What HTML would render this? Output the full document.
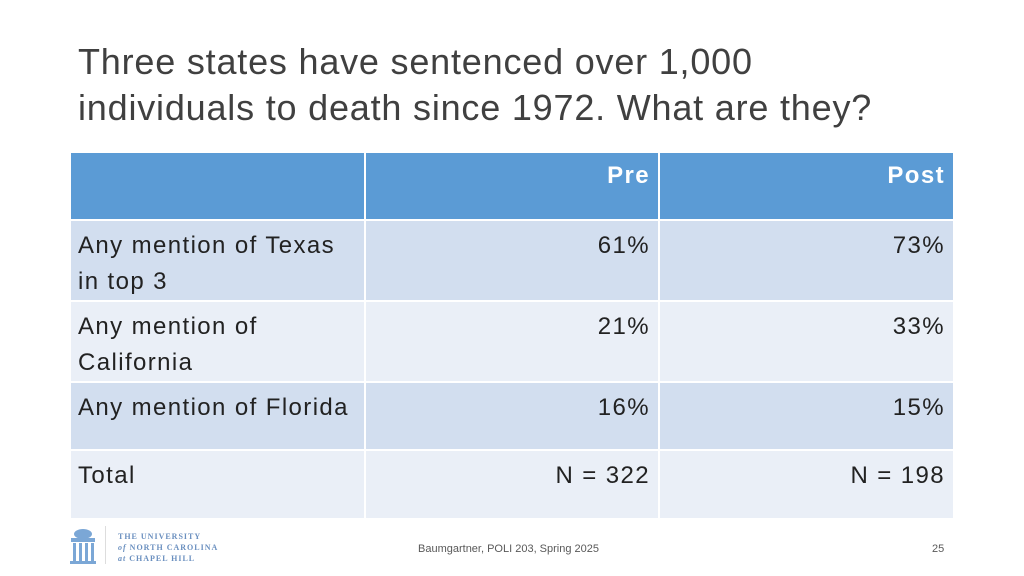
<!DOCTYPE html>
<html><head><meta charset="utf-8"><style>
body{margin:0;width:1024px;height:576px;background:#fff;position:relative;overflow:hidden;font-family:"Liberation Sans",sans-serif;}
.t{position:absolute;left:78px;top:39px;font-size:36px;line-height:46px;color:#404040;letter-spacing:0.8px;}
table{position:absolute;left:69px;top:151px;border-collapse:collapse;}
td{border:2px solid #fff;font-size:24px;letter-spacing:1.4px;color:#222;vertical-align:top;padding:7px 8px 0 7px;line-height:36px;box-sizing:border-box;}
td.r{text-align:right}
tr.h td{background:#5B9BD5;color:#fff;font-weight:bold;height:68px;padding-top:5px}
tr.a td{background:#D2DEEF}
tr.b td{background:#EAEFF7}
.f{position:absolute;font-size:11px;color:#595959}
</style></head><body>
<div class="t">Three states have sentenced over 1,000<br>individuals to death since 1972. What are they?</div>
<table>
<tr class="h"><td style="width:295px"></td><td class="r" style="width:294px">Pre</td><td class="r" style="width:295px">Post</td></tr>
<tr class="a" style="height:80px"><td>Any mention of Texas in top 3</td><td class="r">61%</td><td class="r">73%</td></tr>
<tr class="b" style="height:80px"><td>Any mention of California</td><td class="r">21%</td><td class="r">33%</td></tr>
<tr class="a" style="height:68px"><td>Any mention of Florida</td><td class="r">16%</td><td class="r">15%</td></tr>
<tr class="b" style="height:69px"><td>Total</td><td class="r">N = 322</td><td class="r">N = 198</td></tr>
</table>
<svg style="position:absolute;left:68px;top:527px" width="30" height="38">
<ellipse cx="15" cy="7" rx="9" ry="5" fill="#7BA7D6"/>
<rect x="3" y="11" width="24" height="4" fill="#7BA7D6"/>
<rect x="5" y="16" width="3" height="18" fill="#7BA7D6"/><rect x="11" y="16" width="3" height="18" fill="#7BA7D6"/><rect x="17" y="16" width="3" height="18" fill="#7BA7D6"/><rect x="23" y="16" width="3" height="18" fill="#7BA7D6"/>
<rect x="2" y="34" width="26" height="3" fill="#7BA7D6"/></svg>
<div style="position:absolute;left:105px;top:526px;width:1px;height:38px;background:#ddd"></div>
<div style="position:absolute;left:118px;top:531px;font-family:'Liberation Serif',serif;font-size:8px;line-height:11px;color:#6A8FBF;letter-spacing:1px;font-weight:bold">THE UNIVERSITY<br><i>of</i> NORTH CAROLINA<br><i>at</i> CHAPEL HILL</div>
<div class="f" style="left:418px;top:543px">Baumgartner, POLI 203, Spring 2025</div>
<div class="f" style="left:932px;top:543px">25</div>
</body></html>
